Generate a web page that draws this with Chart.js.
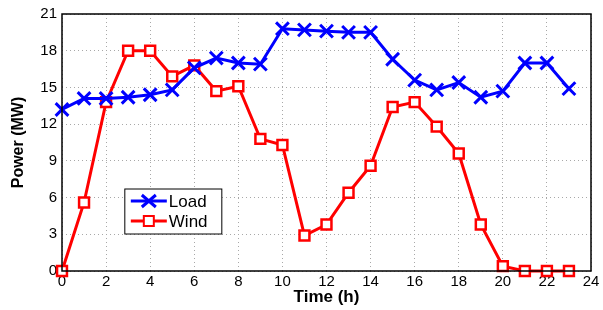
<!DOCTYPE html>
<html>
<head>
<meta charset="utf-8">
<script src="https://cdn.jsdelivr.net/npm/chart.js@4/dist/chart.umd.min.js"></script>
<style>
  html, body { margin: 0; padding: 0; background: #fff; }
  #wrap { width: 603px; height: 310px; }
</style>
</head>
<body>
<div id="wrap"><canvas id="myChart" width="603" height="310"></canvas></div>
<script>
// hours 0..23
var hours = [0, 1, 2, 3, 4, 5, 6, 7, 8, 9, 10, 11, 12, 13, 14, 15, 16, 17, 18, 19, 20, 21, 22, 23]
var load = [13.2, 14.1, 14.1, 14.2, 14.4, 14.8, 16.6, 17.4, 17.0, 16.9, 19.8, 19.7, 19.6, 19.5, 19.5, 17.3, 15.6, 14.8, 15.4, 14.2, 14.7, 17.0, 17.0, 14.9]
var wind = [0, 5.6, 13.8, 18.0, 18.0, 15.9, 16.8, 14.7, 15.1, 10.8, 10.3, 2.9, 3.8, 6.4, 8.6, 13.4, 13.8, 11.8, 9.6, 3.8, 0.4, 0, 0, 0]
var xTicks = [0, 2, 4, 6, 8, 10, 12, 14, 16, 18, 20, 22, 24]
var yTicks = [0, 3, 6, 9, 12, 15, 18, 21]

Chart.defaults.font.family = "'Liberation Sans', Arial, sans-serif"
Chart.defaults.color = "#000"

// box round the plot + legend inside it
var framePlugin = {
    id: 'frame',
    afterDraw: function(chart) {
        var c = chart.ctx, a = chart.chartArea
        c.save()
        c.strokeStyle = '#000'
        c.lineWidth = 1.5
        c.strokeRect(a.left, a.top, a.right - a.left, a.bottom - a.top)

        // legend box
        var x0 = chart.scales.x.getPixelForValue(2.85), y0 = chart.scales.y.getPixelForValue(6.7)
        var w = 97, h = 45
        c.fillStyle = '#fff'
        c.fillRect(x0, y0, w, h)
        c.lineWidth = 1
        c.strokeRect(x0, y0, w, h)
        c.font = "17px 'Liberation Sans', Arial, sans-serif"
        c.textBaseline = 'middle'
        var sets = chart.data.datasets
        for (var i = 0; i < sets.length; i++) {
            var ly = y0 + 12 + i * 20
            c.strokeStyle = sets[i].borderColor
            c.lineWidth = 3
            c.beginPath()
            c.moveTo(x0 + 6, ly)
            c.lineTo(x0 + 42, ly)
            c.stroke()
            var mx = x0 + 24
            if (i == 0) {
                c.beginPath()
                c.moveTo(mx - 7, ly - 6); c.lineTo(mx + 7, ly + 6)
                c.moveTo(mx - 7, ly + 6); c.lineTo(mx + 7, ly - 6)
                c.stroke()
            } else {
                c.lineWidth = 2
                c.fillStyle = '#fff'
                c.fillRect(mx - 5, ly - 5, 10, 10)
                c.strokeRect(mx - 5, ly - 5, 10, 10)
            }
            c.fillStyle = '#000'
            c.fillText(sets[i].label, x0 + 44, ly + 1)
        }
        c.restore()
    }
}

const ctx = document.getElementById('myChart')
new Chart(ctx, {
    type: 'line',
    data: {
        datasets: [{
            label: 'Load',
            data: hours.map((h, i) => ({ x: h, y: load[i] })),
            borderColor: '#0000ff',
            backgroundColor: '#0000ff',
            borderWidth: 3,
            pointStyle: 'crossRot',
            pointRadius: 9,
            pointBorderWidth: 3,
            clip: false,
            tension: 0
        }, {
            label: 'Wind',
            data: hours.map((h, i) => ({ x: h, y: wind[i] })),
            borderColor: '#ff0000',
            backgroundColor: '#ffffff',
            borderWidth: 3,
            pointStyle: 'rect',
            pointRadius: 7,
            pointBorderWidth: 2.5,
            clip: false,
            tension: 0
        }]
    },
    options: {
        responsive: false,
        animation: false,
        layout: { padding: { top: 12, right: 9, left: 0, bottom: 0 } },
        plugins: { legend: { display: false }, tooltip: { enabled: false } },
        scales: {
            x: {
                type: 'linear',
                min: 0,
                max: 24,
                afterBuildTicks: function(axis) { axis.ticks = xTicks.map(v => ({ value: v })) },
                afterFit: function(axis) { axis.height = 39 },
                grid: { color: '#a8a8a8', drawTicks: false },
                border: { display: false, dash: [1, 3] },
                ticks: { font: { size: 15 }, padding: 2, maxRotation: 0 },
                title: { display: true, text: 'Time (h)', font: { size: 17, weight: 'bold' }, padding: { top: 0, bottom: 2 } }
            },
            y: {
                min: 0,
                max: 21,
                afterBuildTicks: function(axis) { axis.ticks = yTicks.map(v => ({ value: v })) },
                afterFit: function(axis) { axis.width = 62 },
                grid: { color: '#a8a8a8', drawTicks: false },
                border: { display: false, dash: [1, 3] },
                ticks: { font: { size: 15 }, padding: 5 },
                title: { display: true, text: 'Power (MW)', font: { size: 16, weight: 'bold' }, padding: { top: 9, bottom: 0 } }
            }
        }
    },
    plugins: [framePlugin]
})
</script>
</body>
</html>
